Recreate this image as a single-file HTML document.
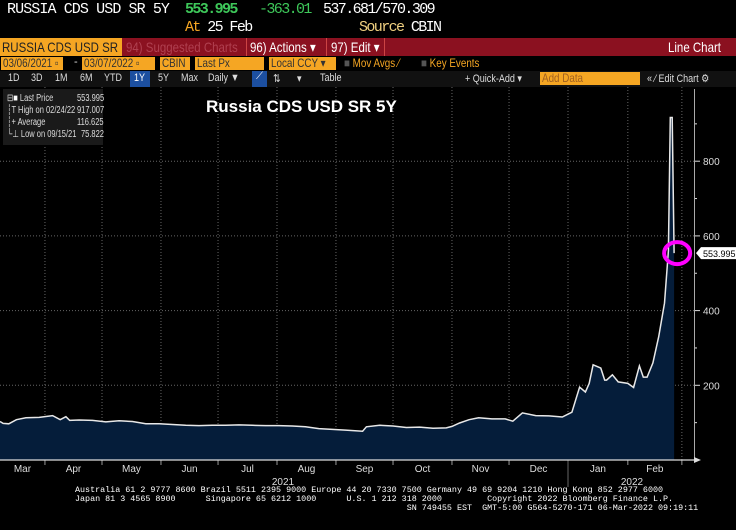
<!DOCTYPE html>
<html><head><meta charset="utf-8"><style>
body{margin:0;background:#000;width:736px;height:530px;overflow:hidden;font-family:"Liberation Sans",sans-serif;position:relative}
.abs{position:absolute;white-space:nowrap}
.mono{font-family:"Liberation Mono",monospace}
.hd{position:absolute;white-space:nowrap;font-family:"Liberation Mono",monospace;font-size:15px;letter-spacing:-0.9px;top:1px}
.c{position:absolute;white-space:nowrap;transform:scaleX(.82);transform-origin:left center;font-size:12px}
.fld{position:absolute;background:#f5a623;color:#333;height:13px;top:57px}
.fld span{position:absolute;left:2px;top:-1px;white-space:nowrap;transform:scaleX(.82);transform-origin:left center;font-size:12px}
.btn{position:absolute;color:#ddd;font-size:11px;top:72px;transform:scaleX(.82);transform-origin:left center;white-space:nowrap}
.lg{position:absolute;white-space:nowrap;transform:scaleX(.75);transform-origin:left center;font-size:10px}
</style></head><body>
<div class="hd" style="left:7px;color:#fff">RUSSIA CDS USD SR 5Y</div>
<div class="hd" style="left:185px;color:#3ec85a;font-weight:bold;letter-spacing:-1.6px">553.995</div>
<div class="hd" style="left:259px;color:#3ec85a;letter-spacing:-1.6px">-363.01</div>
<div class="hd" style="left:323px;color:#fff;letter-spacing:-1.6px">537.681/570.309</div>
<div class="hd" style="left:185px;top:19px;color:#f5a623;letter-spacing:-1.6px">At <span style="color:#fff">25 Feb</span></div>
<div class="hd" style="left:359px;top:19px;color:#f0d080;letter-spacing:-1.6px">Source <span style="color:#fff">CBIN</span></div>

<div class="abs" style="left:0;top:38px;width:736px;height:18px;background:#8b1120"></div>
<div class="abs" style="left:0;top:38px;width:122px;height:18px;background:#f5a623"><span class="c" style="left:2px;top:1px;font-size:14px;color:#222">RUSSIA CDS USD SR</span></div>
<div class="c" style="left:126px;top:39px;font-size:14px;color:#b04050">94) Suggested Charts</div>
<div class="abs" style="left:246px;top:38px;width:1px;height:18px;background:#c44"></div>
<div class="c" style="left:250px;top:39px;font-size:14px;color:#fff">96) Actions ▾</div>
<div class="abs" style="left:326px;top:38px;width:1px;height:18px;background:#c44"></div>
<div class="c" style="left:331px;top:39px;font-size:14px;color:#fff">97) Edit ▾</div>
<div class="abs" style="left:384px;top:38px;width:1px;height:18px;background:#c44"></div>
<div class="c" style="left:668px;top:39px;font-size:14px;color:#fff">Line Chart</div>

<div class="fld" style="left:1px;width:62px"><span>03/06/2021 ▫</span></div>
<div class="abs" style="left:74px;top:56px;color:#ddd;font-size:11px">-</div>
<div class="fld" style="left:82px;width:73px"><span>03/07/2022 ▫</span></div>
<div class="fld" style="left:160px;width:30px"><span>CBIN</span></div>
<div class="fld" style="left:195px;width:69px"><span>Last Px</span></div>
<div class="fld" style="left:269px;width:67px"><span>Local CCY ▾</span></div>
<div class="c" style="left:344px;top:56px;color:#f5a623"><span style="color:#555">■</span> Mov Avgs ⁄</div>
<div class="c" style="left:421px;top:56px;color:#f5a623"><span style="color:#555">■</span> Key Events</div>

<div class="abs" style="left:0;top:71px;width:736px;height:16px;background:#111"></div>
<div class="btn" style="left:8px">1D</div>
<div class="btn" style="left:31px">3D</div>
<div class="btn" style="left:55px">1M</div>
<div class="btn" style="left:80px">6M</div>
<div class="btn" style="left:104px">YTD</div>
<div class="abs" style="left:130px;top:71px;width:20px;height:16px;background:#1c4fa0"></div>
<div class="btn" style="left:134px;color:#fff">1Y</div>
<div class="btn" style="left:158px">5Y</div>
<div class="btn" style="left:181px">Max</div>
<div class="btn" style="left:208px">Daily ▼</div>
<div class="abs" style="left:252px;top:71px;width:15px;height:16px;background:#1c4fa0;color:#fff;font-size:10px;text-align:center">⟋</div>
<div class="btn" style="left:273px">⇅</div>
<div class="btn" style="left:297px">▾</div>
<div class="btn" style="left:320px">Table</div>
<div class="btn" style="left:465px">+ Quick-Add ▾</div>
<div class="fld" style="left:540px;top:72px;width:100px"><span style="color:#a06020">Add Data</span></div>
<div class="btn" style="left:647px">« ⁄ Edit Chart ⚙</div>

<svg id="chart" class="abs" style="left:0;top:87px" width="736" height="443"></svg>

<div class="abs" style="left:3px;top:89px;width:100px;height:56px;background:#1a1a1a;color:#ddd">
<span class="lg" style="left:4px;top:4px">⊟<span style="color:#fff">■</span> Last Price</span><span class="lg" style="left:74px;top:4px">553.995</span>
<span class="lg" style="left:4px;top:16px">┆T High on 02/24/22</span><span class="lg" style="left:74px;top:16px">917.007</span>
<span class="lg" style="left:4px;top:28px">┆+ Average</span><span class="lg" style="left:74px;top:28px">116.625</span>
<span class="lg" style="left:4px;top:40px">└⊥ Low on 09/15/21</span><span class="lg" style="left:78px;top:40px">75.822</span>
</div>
<div class="abs" style="left:206px;top:97px;font-size:17px;font-weight:bold;color:#fff">Russia CDS USD SR 5Y</div>

<div class="abs mono" style="left:75px;top:486px;font-size:8.4px;line-height:9px;color:#fff;white-space:pre">Australia 61 2 9777 8600 Brazil 5511 2395 9000 Europe 44 20 7330 7500 Germany 49 69 9204 1210 Hong Kong 852 2977 6000
Japan 81 3 4565 8900      Singapore 65 6212 1000      U.S. 1 212 318 2000         Copyright 2022 Bloomberg Finance L.P.
                                                                  SN 749455 EST  GMT-5:00 G564-5270-171 06-Mar-2022 09:19:11</div>

<script>
const dates=["2021-03-06","2021-03-10","2021-03-13","2021-03-17","2021-03-22","2021-03-29","2021-04-05","2021-04-09","2021-04-12","2021-04-14","2021-04-19","2021-04-26","2021-05-03","2021-05-10","2021-05-17","2021-05-24","2021-05-31","2021-06-07","2021-06-14","2021-06-21","2021-06-28","2021-07-05","2021-07-12","2021-07-19","2021-07-26","2021-08-02","2021-08-09","2021-08-16","2021-08-23","2021-08-30","2021-09-06","2021-09-15","2021-09-17","2021-09-24","2021-10-01","2021-10-08","2021-10-15","2021-10-22","2021-10-29","2021-11-01","2021-11-05","2021-11-10","2021-11-15","2021-11-22","2021-11-29","2021-12-03","2021-12-08","2021-12-15","2021-12-22","2021-12-29","2022-01-03","2022-01-07","2022-01-10","2022-01-12","2022-01-14","2022-01-18","2022-01-20","2022-01-21","2022-01-24","2022-01-27","2022-02-01","2022-02-04","2022-02-07","2022-02-09","2022-02-11","2022-02-14","2022-02-17","2022-02-20","2022-02-22","2022-02-23","2022-02-24","2022-02-25"];
const values=[103,98,97,108,113,114,119,108,116,106,107,106,102,105,103,97,97,95,93,92,93,93,94,93,92,92,91,89,84,82,80,77,89,93,91,87,88,85,86,90,99,108,113,110,110,104,126,119,118,115,128,195,182,205,255,246,214,214,228,209,205,194,252,222,222,260,330,420,560,917,917,554];
const yTicks=[200,400,600,800];
const monthLabels=["Mar","Apr","May","Jun","Jul","Aug","Sep","Oct","Nov","Dec","Jan","Feb"];
const monthStarts=["2021-03-01","2021-04-01","2021-05-01","2021-06-01","2021-07-01","2021-08-01","2021-09-01","2021-10-01","2021-11-01","2021-12-01","2022-01-01","2022-02-01","2022-03-01"];
const svg=document.getElementById('chart');
const NS='http://www.w3.org/2000/svg';
const OFF=87;
const jan1=Date.UTC(2022,0,1);
function dayOf(s){const p=s.split('-');return (Date.UTC(+p[0],p[1]-1,+p[2])-jan1)/864e5;}
function xS(s){const d=dayOf(s);return d<0?568+d*1.902:568+d*1.93;}
function yS(v){return 460-OFF-v*0.3735;}
function mk(tag,attrs){const e=document.createElementNS(NS,tag);for(const k in attrs)e.setAttribute(k,attrs[k]);svg.appendChild(e);return e;}
yTicks.forEach(v=>{
 const g=mk('line',{x1:0,x2:694,y1:yS(v),y2:yS(v),stroke:'#666','stroke-dasharray':'1,2'});
 
 
 const t=mk('text',{x:703,y:yS(v)+4,fill:'#ddd','font-size':10,'font-family':'Liberation Sans'});
 t.textContent=v;
 
 
 mk('line',{x1:694,x2:700,y1:yS(v),y2:yS(v),stroke:'#ddd'});
 mk('line',{x1:694,x2:697,y1:yS(v-100),y2:yS(v-100),stroke:'#ddd'});
});
mk('line',{x1:694,x2:697,y1:yS(900),y2:yS(900),stroke:'#ddd'});
monthStarts.forEach((m,i)=>{
 const x=xS(m);
 if(x>0&&x<694){const g=mk('line',{x1:x,x2:x,y1:0,y2:373,stroke:'#666','stroke-dasharray':'1,2'});
 
 
 mk('line',{x1:x,x2:x,y1:373,y2:378,stroke:'#999'});}
 if(i<monthLabels.length){
  const cx=(Math.max(xS(m),0)+xS(monthStarts[i+1]))/2;
  const t=mk('text',{x:cx,y:385,fill:'#ddd','font-size':10,'text-anchor':'middle','font-family':'Liberation Sans'});
  t.textContent=monthLabels[i];
  
  
 }
});
[["2021",283],["2022",632]].forEach(a=>{
 const t=mk('text',{x:a[1],y:398,fill:'#ddd','font-size':10,'text-anchor':'middle','font-family':'Liberation Sans'});
 t.textContent=a[0];
 
 
});
mk('line',{x1:xS("2022-01-01"),x2:xS("2022-01-01"),y1:373,y2:400,stroke:'#666'});
let pts=dates.map((d,i)=>[Math.max(0,xS(d)),yS(values[i])]);
const lastX=pts[pts.length-1][0];
let area='M0,'+yS(0)+' '+pts.map(p=>'L'+p[0].toFixed(1)+','+p[1].toFixed(1)).join(' ')+' L'+lastX+','+yS(0)+'Z';
const a=mk('path',{d:area,fill:'#051d3a'});


const l=mk('path',{d:'M'+pts.map(p=>p[0].toFixed(1)+','+p[1].toFixed(1)).join(' L'),fill:'none',stroke:'#e8e8e8','stroke-width':1.5});


mk('line',{x1:0,x2:694,y1:yS(0),y2:yS(0),stroke:'#ddd','stroke-width':1.2});
mk('line',{x1:694.5,x2:694.5,y1:2,y2:yS(0),stroke:'#aaa'});
mk('path',{d:`M694,${yS(0)-3} L701,${yS(0)} L694,${yS(0)+3}Z`,fill:'#ddd'});
const ly=yS(values[values.length-1]);
const lb=mk('path',{d:`M696,${ly} L701,${ly-6} L736,${ly-6} L736,${ly+6} L701,${ly+6}Z`,fill:'#fff'});


const lt=mk('text',{x:703,y:ly+4,fill:'#000','font-size':9,'font-family':'Liberation Sans'});
lt.textContent='553.995';


const c=mk('ellipse',{cx:lastX+3,cy:ly,rx:13,ry:11,fill:'none',stroke:'#ff00ff','stroke-width':4});


</script>
</body></html>
